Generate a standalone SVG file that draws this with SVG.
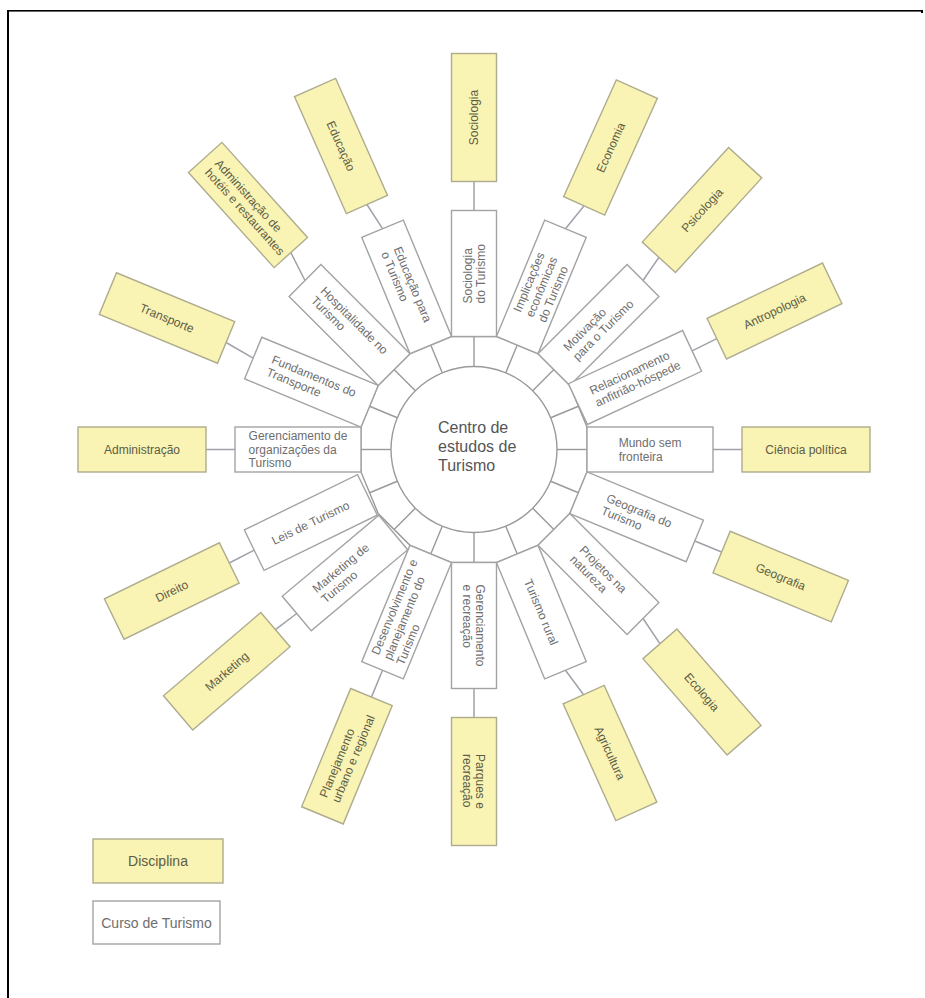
<svg xmlns="http://www.w3.org/2000/svg" width="925" height="998" viewBox="0 0 925 998">
  <style>
    .frame { fill: #000; }
    .ring { fill: #fff; stroke: #9a9a9a; stroke-width: 1.4; }
    .spoke { stroke: #9a9a9a; stroke-width: 1.4; fill: none; }
    .conn { stroke: #a0a0aa; stroke-width: 1.5; fill: none; }
    .curso { fill: #fff; stroke: #a3a3a3; stroke-width: 1.4; }
    .disc { fill: #f9f3b4; stroke: #aeac8e; stroke-width: 1.4; }
    text { font-family: "Liberation Sans", Arial, sans-serif; font-size: 12px; }
    .tc { fill: #6e6e6e; }
    .td { fill: #5c5c44; text-anchor: middle; }
    .td-multi { fill: #5c5c44; }
    .center-label { fill: #555; font-size: 16px; }
    .legend { font-size: 14px; text-anchor: middle; }
  </style>

  <!-- page frame -->
  <rect class="frame" x="7" y="10" width="916" height="1.6"/>
  <rect class="frame" x="7" y="10" width="2" height="988"/>
  <rect class="frame" x="921" y="10" width="2" height="3"/>

  <!-- hub: ring of 16 cells around the central circle -->
  <g id="centro">
    <polygon class="ring" points="496.48,336.5 538.01,353.71 569.79,385.49 587,427.02 587,471.98 569.79,513.51 538.01,545.29 496.48,562.5 451.52,562.5 409.99,545.29 378.21,513.51 361,471.98 361,427.02 378.21,385.49 409.99,353.71 451.52,336.5"/>
    <g class="spoke">
      <line x1="474" y1="366.5" x2="474" y2="336.5"/>
      <line x1="474" y1="366.5" x2="474" y2="336.5" transform="rotate(22.5 474 449.5)"/>
      <line x1="474" y1="366.5" x2="474" y2="336.5" transform="rotate(45 474 449.5)"/>
      <line x1="474" y1="366.5" x2="474" y2="336.5" transform="rotate(67.5 474 449.5)"/>
      <line x1="474" y1="366.5" x2="474" y2="336.5" transform="rotate(90 474 449.5)"/>
      <line x1="474" y1="366.5" x2="474" y2="336.5" transform="rotate(112.5 474 449.5)"/>
      <line x1="474" y1="366.5" x2="474" y2="336.5" transform="rotate(135 474 449.5)"/>
      <line x1="474" y1="366.5" x2="474" y2="336.5" transform="rotate(157.5 474 449.5)"/>
      <line x1="474" y1="366.5" x2="474" y2="336.5" transform="rotate(180 474 449.5)"/>
      <line x1="474" y1="366.5" x2="474" y2="336.5" transform="rotate(202.5 474 449.5)"/>
      <line x1="474" y1="366.5" x2="474" y2="336.5" transform="rotate(225 474 449.5)"/>
      <line x1="474" y1="366.5" x2="474" y2="336.5" transform="rotate(247.5 474 449.5)"/>
      <line x1="474" y1="366.5" x2="474" y2="336.5" transform="rotate(270 474 449.5)"/>
      <line x1="474" y1="366.5" x2="474" y2="336.5" transform="rotate(292.5 474 449.5)"/>
      <line x1="474" y1="366.5" x2="474" y2="336.5" transform="rotate(315 474 449.5)"/>
      <line x1="474" y1="366.5" x2="474" y2="336.5" transform="rotate(337.5 474 449.5)"/>
    </g>
    <circle class="ring" cx="474" cy="449.5" r="83"/>
    <text class="center-label"><tspan x="438" y="433">Centro de</tspan><tspan x="438" y="452">estudos de</tspan><tspan x="438" y="471">Turismo</tspan></text>
  </g>

  <!-- links between each course box and its discipline -->
  <g id="connectors" class="conn">
    <line x1="474" y1="210.5" x2="474" y2="181.5"/>
    <line x1="565.46" y1="228.69" x2="584.1" y2="205.8"/>
    <line x1="643" y1="280.5" x2="658.9" y2="257.3"/>
    <line x1="692.1" y1="350.9" x2="716.8" y2="338.7"/>
    <line x1="713" y1="449.5" x2="742" y2="449.5"/>
    <line x1="694.81" y1="540.96" x2="721.6" y2="552.06"/>
    <line x1="643" y1="618.5" x2="659.9" y2="643.7"/>
    <line x1="565.46" y1="670.31" x2="583.6" y2="694.7"/>
    <line x1="474" y1="688.5" x2="474" y2="717.5"/>
    <line x1="382.54" y1="670.31" x2="371.44" y2="697.1"/>
    <line x1="296.7" y1="613.5" x2="275.4" y2="629.7"/>
    <line x1="254.2" y1="550.1" x2="229.3" y2="563"/>
    <line x1="235" y1="449.5" x2="206" y2="449.5"/>
    <line x1="253.19" y1="358.04" x2="226.1" y2="342.5"/>
    <line x1="305" y1="280.5" x2="290.8" y2="252.6"/>
    <line x1="382.54" y1="228.69" x2="366.9" y2="204.5"/>
  </g>

  <!-- course boxes (white), 126 x 45 -->
  <g id="c-sociologia" transform="translate(474 273.5) rotate(-90)">
    <rect class="curso" x="-63" y="-22.5" width="126" height="45"/>
    <text class="tc"><tspan x="-30" y="-2.45">Sociologia</tspan><tspan x="-30" y="11.05">do Turismo</tspan></text>
  </g>
  <g id="c-implicacoes" transform="translate(541.35 286.9) rotate(-67.5)">
    <rect class="curso" x="-63" y="-22.5" width="126" height="45"/>
    <text class="tc"><tspan x="-32" y="-9.2">Implicações</tspan><tspan x="-32" y="4.3">econômicas</tspan><tspan x="-32" y="17.8">do Turismo</tspan></text>
  </g>
  <g id="c-motivacao" transform="translate(598.45 325.05) rotate(-45)">
    <rect class="curso" x="-63" y="-22.5" width="126" height="45"/>
    <text class="tc"><tspan x="-40.3" y="-2.45">Motivação</tspan><tspan x="-40.3" y="11.05">para o Turismo</tspan></text>
  </g>
  <g id="c-relacionamento" transform="translate(635 377.5) rotate(-25)">
    <rect class="curso" x="-63" y="-22.5" width="126" height="45"/>
    <text class="tc"><tspan x="-46.4" y="-2.45">Relacionamento</tspan><tspan x="-46.4" y="11.05">anfitrião-hóspede</tspan></text>
  </g>
  <g id="c-mundo" transform="translate(650 449.5)">
    <rect class="curso" x="-63" y="-22.5" width="126" height="45"/>
    <text class="tc"><tspan x="-31.3" y="-2.45">Mundo sem</tspan><tspan x="-31.3" y="11.05">fronteira</tspan></text>
  </g>
  <g id="c-geografia" transform="translate(636.6 516.85) rotate(22.5)">
    <rect class="curso" x="-63" y="-22.5" width="126" height="45"/>
    <text class="tc"><tspan x="-34.7" y="-2.45">Geografia do</tspan><tspan x="-34.7" y="11.05">Turismo</tspan></text>
  </g>
  <g id="c-projetos" transform="translate(598.45 573.95) rotate(45)">
    <rect class="curso" x="-63" y="-22.5" width="126" height="45"/>
    <text class="tc"><tspan x="-30.3" y="-2.45">Projetos na</tspan><tspan x="-30.3" y="11.05">natureza</tspan></text>
  </g>
  <g id="c-rural" transform="translate(541.35 612.1) rotate(67.5)">
    <rect class="curso" x="-63" y="-22.5" width="126" height="45"/>
    <text class="tc"><tspan x="-35.3" y="4.3">Turismo rural</tspan></text>
  </g>
  <g id="c-recreacao" transform="translate(474 625.5) rotate(90)">
    <rect class="curso" x="-63" y="-22.5" width="126" height="45"/>
    <text class="tc"><tspan x="-41" y="-2.45">Gerenciamento</tspan><tspan x="-41" y="11.05">e recreação</tspan></text>
  </g>
  <g id="c-desenvolvimento" transform="translate(406.65 612.1) rotate(-67.5)">
    <rect class="curso" x="-63" y="-22.5" width="126" height="45"/>
    <text class="tc"><tspan x="-51" y="-9.2">Desenvolvimento e</tspan><tspan x="-51" y="4.3">planejamento do</tspan><tspan x="-51" y="17.8">Turismo</tspan></text>
  </g>
  <g id="c-marketing" transform="translate(345 573) rotate(-40)">
    <rect class="curso" x="-63" y="-22.5" width="126" height="45"/>
    <text class="tc"><tspan x="-34.7" y="-2.45">Marketing de</tspan><tspan x="-34.7" y="11.05">Turismo</tspan></text>
  </g>
  <g id="c-leis" transform="translate(310.8 522.5) rotate(-26)">
    <rect class="curso" x="-63" y="-22.5" width="126" height="45"/>
    <text class="tc"><tspan x="-42.7" y="4.3">Leis de Turismo</tspan></text>
  </g>
  <g id="c-organizacoes" transform="translate(298 449.5)">
    <rect class="curso" x="-63" y="-22.5" width="126" height="45"/>
    <text class="tc"><tspan x="-49.4" y="-9.2">Gerenciamento de</tspan><tspan x="-49.4" y="4.3">organizações da</tspan><tspan x="-49.4" y="17.8">Turismo</tspan></text>
  </g>
  <g id="c-transporte" transform="translate(311.4 382.15) rotate(22.5)">
    <rect class="curso" x="-63" y="-22.5" width="126" height="45"/>
    <text class="tc"><tspan x="-45" y="-2.45">Fundamentos do</tspan><tspan x="-45" y="11.05">Transporte</tspan></text>
  </g>
  <g id="c-hospitalidade" transform="translate(349.55 325.05) rotate(45)">
    <rect class="curso" x="-63" y="-22.5" width="126" height="45"/>
    <text class="tc"><tspan x="-44.7" y="-2.45">Hospitalidade no</tspan><tspan x="-44.7" y="11.05">Turismo</tspan></text>
  </g>
  <g id="c-educacao" transform="translate(406.65 286.9) rotate(67.5)">
    <rect class="curso" x="-63" y="-22.5" width="126" height="45"/>
    <text class="tc"><tspan x="-40.4" y="-2.45">Educação para</tspan><tspan x="-40.4" y="11.05">o Turismo</tspan></text>
  </g>

  <!-- discipline boxes (yellow), 128 x 45 -->
  <g id="d-sociologia" transform="translate(474 117.5) rotate(-90)">
    <rect class="disc" x="-64" y="-22.5" width="128" height="45"/>
    <text class="td" x="0" y="4.3">Sociologia</text>
  </g>
  <g id="d-economia" transform="translate(610.5 147.5) rotate(-65.7)">
    <rect class="disc" x="-64" y="-22.5" width="128" height="45"/>
    <text class="td" x="0" y="4.3">Economia</text>
  </g>
  <g id="d-psicologia" transform="translate(702 210) rotate(-47.6)">
    <rect class="disc" x="-64" y="-22.5" width="128" height="45"/>
    <text class="td" x="0" y="4.3">Psicologia</text>
  </g>
  <g id="d-antropologia" transform="translate(774.5 311) rotate(-25.6)">
    <rect class="disc" x="-64" y="-22.5" width="128" height="45"/>
    <text class="td" x="0" y="4.3">Antropologia</text>
  </g>
  <g id="d-ciencia-politica" transform="translate(806 449.5)">
    <rect class="disc" x="-64" y="-22.5" width="128" height="45"/>
    <text class="td" x="0" y="4.3">Ciência política</text>
  </g>
  <g id="d-geografia" transform="translate(780.73 576.55) rotate(22.5)">
    <rect class="disc" x="-64" y="-22.5" width="128" height="45"/>
    <text class="td" x="0" y="4.3">Geografia</text>
  </g>
  <g id="d-ecologia" transform="translate(702 692) rotate(48.9)">
    <rect class="disc" x="-64" y="-22.5" width="128" height="45"/>
    <text class="td" x="0" y="4.3">Ecologia</text>
  </g>
  <g id="d-agricultura" transform="translate(610 753) rotate(65.7)">
    <rect class="disc" x="-64" y="-22.5" width="128" height="45"/>
    <text class="td" x="0" y="4.3">Agricultura</text>
  </g>
  <g id="d-parques" transform="translate(474 781.5) rotate(90)">
    <rect class="disc" x="-64" y="-22.5" width="128" height="45"/>
    <text class="td-multi"><tspan x="-27.4" y="-2.45">Parques e</tspan><tspan x="-27.4" y="11.05">recreação</tspan></text>
  </g>
  <g id="d-planejamento" transform="translate(346.95 756.23) rotate(-67.5)">
    <rect class="disc" x="-64" y="-22.5" width="128" height="45"/>
    <text class="td-multi"><tspan x="-46.7" y="-2.45">Planejamento</tspan><tspan x="-46.7" y="11.05">urbano e regional</tspan></text>
  </g>
  <g id="d-marketing" transform="translate(226.75 671.25) rotate(-40.5)">
    <rect class="disc" x="-64" y="-22.5" width="128" height="45"/>
    <text class="td" x="0" y="4.3">Marketing</text>
  </g>
  <g id="d-direito" transform="translate(171.75 591) rotate(-26)">
    <rect class="disc" x="-64" y="-22.5" width="128" height="45"/>
    <text class="td" x="0" y="4.3">Direito</text>
  </g>
  <g id="d-administracao" transform="translate(142 449.5)">
    <rect class="disc" x="-64" y="-22.5" width="128" height="45"/>
    <text class="td" x="0" y="4.3">Administração</text>
  </g>
  <g id="d-transporte" transform="translate(167 318) rotate(22.5)">
    <rect class="disc" x="-64" y="-22.5" width="128" height="45"/>
    <text class="td" x="0" y="4.3">Transporte</text>
  </g>
  <g id="d-hoteis" transform="translate(248 205) rotate(48)">
    <rect class="disc" x="-64" y="-22.5" width="128" height="45"/>
    <text class="td-multi"><tspan x="-53" y="-2.45">Administração de</tspan><tspan x="-53" y="11.05">hotéis e restaurantes</tspan></text>
  </g>
  <g id="d-educacao" transform="translate(341 146) rotate(66.1)">
    <rect class="disc" x="-64" y="-22.5" width="128" height="45"/>
    <text class="td" x="0" y="4.3">Educação</text>
  </g>

  <!-- legend -->
  <g id="legend-disciplina">
    <rect class="disc" x="93" y="839" width="130" height="44"/>
    <text class="td legend" x="158" y="866">Disciplina</text>
  </g>
  <g id="legend-curso">
    <rect class="curso" x="93" y="901" width="127" height="43"/>
    <text class="tc legend" x="156.5" y="928">Curso de Turismo</text>
  </g>
</svg>
